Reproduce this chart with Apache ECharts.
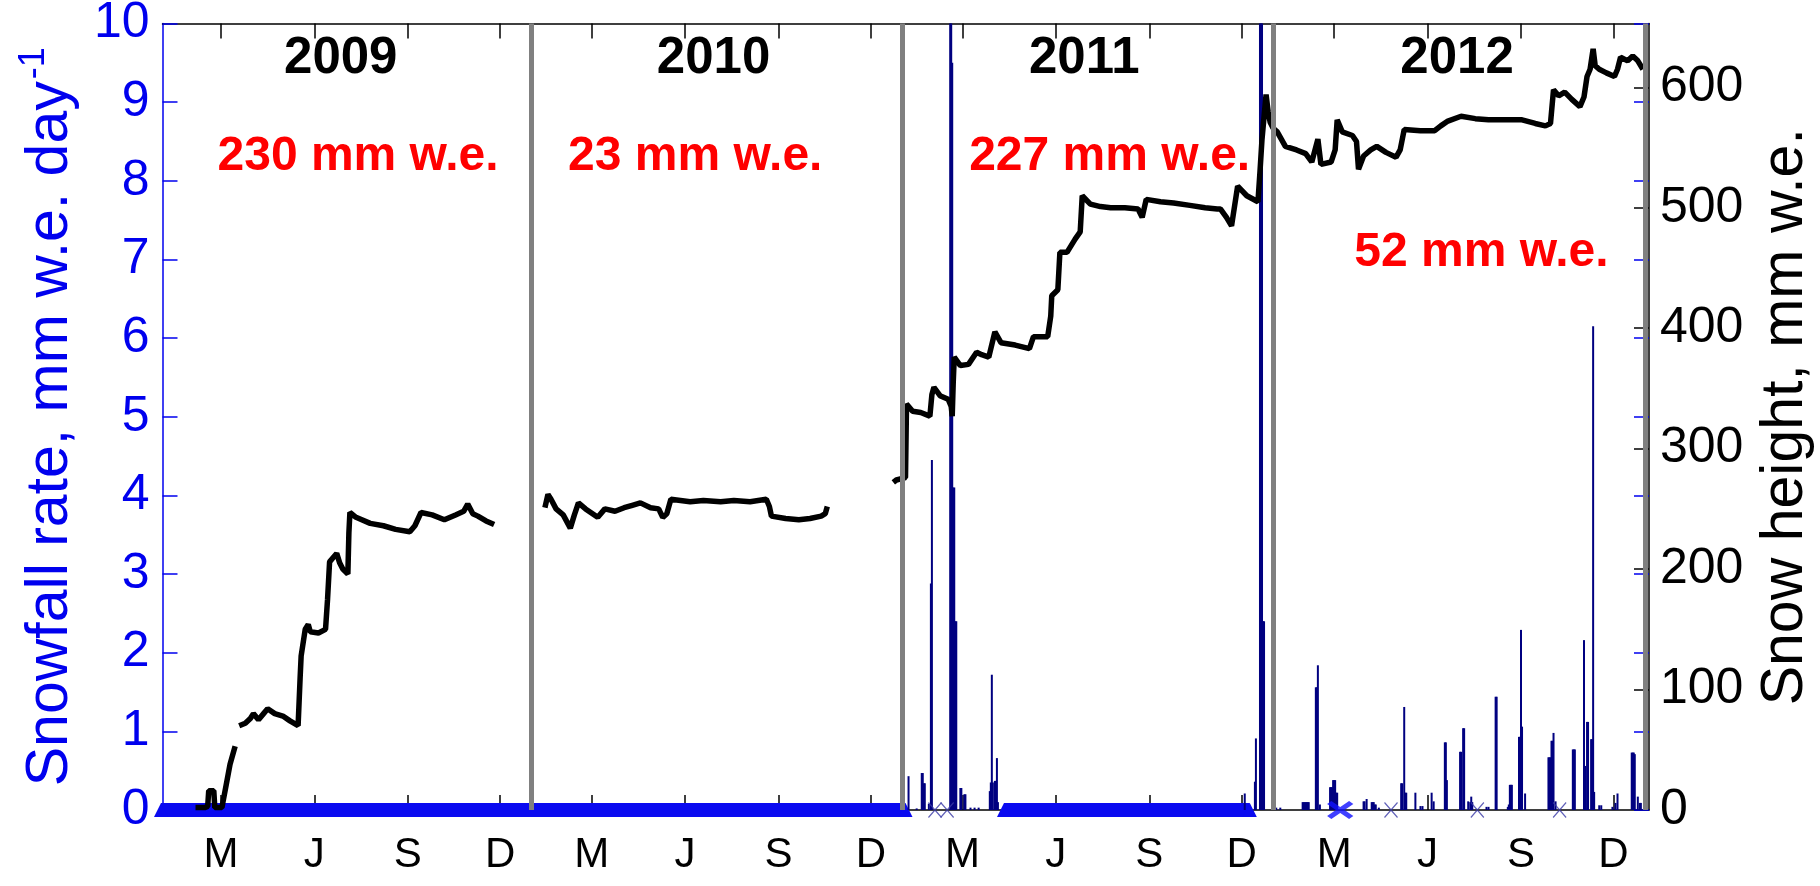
<!DOCTYPE html>
<html>
<head>
<meta charset="utf-8">
<script src="https://cdn.jsdelivr.net/npm/echarts@6/dist/echarts.min.js"></script>
<style>html,body{margin:0;padding:0;background:#fff}#c{width:1820px;height:886px}</style>
</head>
<body>
<div id="c"></div>
<script>
// x values are days of record counted from 2009-01-01 (day 0)
const yearSeparators = [365, 730, 1095, 1461];
const monthTickDays = [59, 151, 243, 334, 424, 516, 608, 699, 789, 881, 973, 1064, 1155, 1247, 1339, 1430];
const monthTickLabels = ['M', 'J', 'S', 'D', 'M', 'J', 'S', 'D', 'M', 'J', 'S', 'D', 'M', 'J', 'S', 'D'];
const yearNames = ['2009', '2010', '2011', '2012'];
const yearTotals = ['230 mm w.e.', '23 mm w.e.', '227 mm w.e.', '52 mm w.e.'];
const rateTicks = [0, 1, 2, 3, 4, 5, 6, 7, 8, 9, 10];
const heightTicks = [0, 100, 200, 300, 400, 500, 600];

// snowfall rate, mm w.e. day-1  [day, rate]
const snowRate2011 = [
  [736, 0.43], [744, 0.02], [749, 0.47], [750, 0.47], [751, 0.34], [752, 0.34], [756, 0.08],
  [758, 2.88], [759, 4.45], [777, 12], [778, 12], [779, 9.5], [780, 4.1], [781, 4.1], [782, 2.4], [783, 2.4],
  [787, 0.28], [788, 0.28], [791, 0.2], [792, 0.2], [797, 0.03], [801, 0.03], [805, 0.03],
  [816, 0.24], [817, 0.35], [818, 1.72], [819, 0.35], [821, 0.37], [822, 0.37], [823, 0.66], [824, 0.1],
  [1067, 0.21], [1077, 0.36], [1078, 0.91], [1082, 12], [1083, 12], [1084, 12], [1085, 2.4], [1086, 2.4]
];
const snowRate2012 = [
  [1098, 0.03], [1102, 0.03],
  [1124, 0.1], [1125, 0.1], [1126, 0.1], [1127, 0.1], [1128, 0.1], [1129, 0.1], [1130, 0.1],
  [1137, 1.56], [1138, 1.56], [1139, 1.84], [1141, 0.07],
  [1151, 0.29], [1152, 0.29], [1153, 0.29], [1154, 0.38], [1155, 0.38], [1156, 0.38], [1157, 0.22], [1158, 0.22],
  [1184, 0.11], [1185, 0.11], [1187, 0.14], [1192, 0.1], [1193, 0.1], [1194, 0.1], [1195, 0.07], [1196, 0.07], [1199, 0.03],
  [1221, 0.34], [1222, 0.34], [1224, 1.31], [1225, 0.22], [1226, 0.22], [1235, 0.22], [1240, 0.05], [1242, 0.05],
  [1251, 0.22], [1253, 0.11], [1264, 0.86], [1265, 0.86], [1266, 0.38],
  [1279, 0.74], [1280, 0.74], [1282, 1.04], [1283, 1.04], [1287, 0.11], [1289, 0.1], [1290, 0.17], [1291, 0.1],
  [1305, 0.04], [1307, 0.04], [1314, 1.44], [1315, 1.44], [1326, 0.04], [1327, 0.07],
  [1328, 0.32], [1329, 0.32], [1330, 0.32], [1337, 0.93], [1338, 0.93], [1339, 2.29], [1340, 1.06], [1343, 0.21],
  [1366, 0.67], [1367, 0.67], [1368, 0.67], [1369, 0.88], [1370, 0.88], [1371, 0.98], [1373, 0.11],
  [1390, 0.77], [1391, 0.77], [1392, 0.77], [1401, 2.16], [1402, 0.56], [1404, 1.12], [1405, 1.12],
  [1408, 0.9], [1409, 0.9], [1410, 6.15], [1411, 0.23], [1416, 0.06], [1418, 0.06],
  [1429, 0.04], [1432, 0.09], [1434, 0.21], [1448, 0.73], [1449, 0.73], [1450, 0.73], [1451, 0.71],
  [1454, 0.17], [1456, 0.09], [1457, 0.09]
];
// days where no snowfall rate could be derived (drawn on the zero line)
const noRateRuns = [[0, 733], [830, 1072]];
const thinCrossDays = [762, 774, 1211, 1296, 1377];
const boldCrossDays = [1161];

// snow height, mm w.e.  [day, height]
const snowHeight2009a = [[34, 2], [43, 2], [46, 3], [47, 16], [52, 16], [53, 2], [60, 2], [64, 20], [68, 38], [73, 53]];
const snowHeight2009b = [
  [77, 70], [83, 72], [88, 76], [91, 80], [96, 75], [101, 80], [105, 84], [112, 80], [120, 78], [127, 74], [135, 70],
  [137, 110], [138, 128], [142, 150], [145, 154], [147, 148], [155, 147], [162, 150], [164, 175], [166, 206],
  [170, 210], [173, 213], [176, 205], [179, 200], [184, 196], [185, 230], [186, 247], [192, 243], [206, 238],
  [219, 236], [231, 233], [245, 231], [250, 236], [256, 247], [267, 245], [279, 241], [290, 245], [298, 248],
  [302, 254], [307, 246], [312, 244], [320, 240], [328, 237]
];
const snowHeight2010 = [
  [378, 251], [381, 262], [384, 258], [389, 250], [396, 245], [403, 234], [407, 245], [411, 255], [418, 250],
  [430, 243], [437, 250], [447, 248], [456, 251], [464, 253], [472, 255], [482, 251], [490, 250], [494, 243],
  [498, 246], [502, 258], [521, 256], [534, 257], [551, 256], [564, 257], [580, 256], [596, 258], [599, 252],
  [601, 244], [615, 242], [628, 241], [639, 242], [650, 244], [654, 246], [656, 252]
];
const snowHeight2011 = [
  [721, 272], [724, 274], [733, 276], [734, 337], [740, 331], [748, 330], [757, 327], [759, 345], [761, 351],
  [767, 344], [775, 341], [778, 335], [779, 327], [780, 355], [781, 376], [787, 369], [795, 370], [803, 380],
  [808, 378], [815, 376], [821, 397], [827, 388], [841, 386], [855, 383], [859, 393], [873, 393], [876, 410],
  [877, 427], [883, 432], [885, 463], [892, 463], [900, 474], [905, 480], [907, 510], [915, 503], [925, 501],
  [935, 500], [949, 500], [962, 499], [966, 492], [970, 507], [984, 505], [997, 504], [1013, 502], [1028, 500],
  [1040, 499], [1043, 499], [1049, 492], [1054, 485], [1060, 518], [1069, 510], [1080, 505], [1082, 530],
  [1084, 557], [1088, 594], [1090, 580], [1092, 571], [1095, 566]
];
const snowHeight2012 = [
  [1095, 566], [1099, 563], [1107, 551], [1118, 548], [1127, 545], [1133, 538], [1139, 557], [1142, 536],
  [1152, 538], [1156, 548], [1158, 573], [1163, 563], [1173, 560], [1177, 555], [1179, 532], [1184, 543],
  [1191, 548], [1197, 551], [1206, 546], [1216, 542], [1220, 548], [1224, 565], [1240, 564], [1254, 564],
  [1260, 568], [1267, 572], [1280, 576], [1294, 574], [1307, 573], [1324, 573], [1340, 573], [1353, 570],
  [1363, 568], [1368, 570], [1371, 598], [1376, 593], [1382, 596], [1389, 590], [1397, 584], [1401, 592],
  [1404, 609], [1407, 615], [1410, 632], [1412, 618], [1416, 615], [1423, 612], [1431, 609], [1434, 615],
  [1437, 625], [1444, 622], [1449, 626], [1454, 622], [1459, 615]
];

// ---------------- layout / style ----------------
const FONT = '"Liberation Sans", Arial, Helvetica, sans-serif';
const BLUE = '#0000ee';
const NAVY = '#000080';
const X_MIN = 1.5, X_MAX = 1465;

const chart = echarts.init(document.getElementById('c'), null, {renderer: 'canvas'});

const snowHeightSegs = [snowHeight2009a, snowHeight2009b, snowHeight2010, snowHeight2011, snowHeight2012];
const crossPath = 'path://M0,0L10,10M10,0L0,10';

const series = [];
noRateRuns.forEach(function (run) {
  series.push({
    type: 'line', xAxisIndex: 0, yAxisIndex: 0, z: 2, clip: false, silent: true,
    data: [[run[0], 0], [run[1], 0]],
    symbol: 'triangle', symbolSize: 14, showSymbol: true,
    itemStyle: {color: '#0a0af0'},
    lineStyle: {color: '#0a0af0', width: 14},
    animation: false
  });
});
series.push({
  type: 'bar', xAxisIndex: 0, yAxisIndex: 0, z: 3, barWidth: 2,
  data: snowRate2011.concat(snowRate2012),
  itemStyle: {color: NAVY},
  animation: false
});
snowHeightSegs.forEach(function (seg) {
  series.push({
    type: 'line', xAxisIndex: 0, yAxisIndex: 1, z: 4, data: seg,
    showSymbol: false, symbol: 'none',
    lineStyle: {color: '#000', width: 5.5},
    animation: false
  });
});
series.push({
  type: 'scatter', xAxisIndex: 0, yAxisIndex: 0, z: 5, clip: false,
  data: thinCrossDays.map(function (d) { return [d, 0]; }),
  symbol: crossPath, symbolSize: [13, 15],
  itemStyle: {color: 'none', borderColor: '#3a3aa8', borderWidth: 1.3},
  animation: false
});
series.push({
  type: 'scatter', xAxisIndex: 0, yAxisIndex: 0, z: 5, clip: false,
  data: boldCrossDays.map(function (d) { return [d, 0]; }),
  symbol: crossPath, symbolSize: [22, 15],
  itemStyle: {color: 'none', borderColor: '#1010ff', borderWidth: 5},
  animation: false
});
series.push({
  type: 'line', xAxisIndex: 0, yAxisIndex: 0, z: 10, data: [],
  markLine: {
    silent: true, symbol: 'none', animation: false,
    label: {show: false},
    lineStyle: {color: '#808080', width: 5, type: 'solid'},
    data: yearSeparators.map(function (d) { return {xAxis: d}; })
  }
});

const option = {
  animation: false,
  backgroundColor: '#fff',
  textStyle: {fontFamily: FONT},
  grid: {left: 162.5, right: 171, top: 23.5, bottom: 76, containLabel: false, outerBoundsMode: 'none'},
  xAxis: [
    {
      type: 'value', position: 'bottom', min: X_MIN, max: X_MAX,
      axisLine: {show: true, onZero: false, lineStyle: {color: '#000', width: 1.5}},
      axisTick: {show: true, inside: true, length: 15, customValues: monthTickDays, lineStyle: {color: '#000', width: 1.5}},
      axisLabel: {
        show: true, customValues: monthTickDays, margin: 24, color: '#000', fontSize: 42, lineHeight: 42, fontFamily: FONT,
        formatter: function (v) { const i = monthTickDays.indexOf(v); return i >= 0 ? monthTickLabels[i] : ''; }
      },
      splitLine: {show: false}
    },
    {
      type: 'value', position: 'top', min: X_MIN, max: X_MAX,
      axisLine: {show: true, onZero: false, lineStyle: {color: '#000', width: 1.5}},
      axisTick: {show: true, inside: true, length: 15, customValues: monthTickDays, lineStyle: {color: '#000', width: 1.5}},
      axisLabel: {show: false},
      splitLine: {show: false}
    }
  ],
  yAxis: [
    {
      type: 'value', position: 'left', min: 0, max: 10, interval: 1,
      name: 'Snowfall rate, mm w.e. day{sup|-1}', nameLocation: 'middle', nameRotate: 90, nameGap: 78,
      nameMoveOverlap: false,
      nameTextStyle: {
        color: BLUE, fontSize: 59, lineHeight: 68, fontFamily: FONT,
        rich: {sup: {color: BLUE, fontSize: 36, lineHeight: 68, verticalAlign: 'top', padding: [0, 0, 16, 2], fontFamily: FONT}}
      },
      axisLine: {show: true, onZero: false, lineStyle: {color: BLUE, width: 1.5}},
      axisTick: {show: true, inside: true, length: 15, lineStyle: {color: BLUE, width: 1.5}},
      axisLabel: {show: true, customValues: rateTicks, margin: 13, color: BLUE, fontSize: 50, fontFamily: FONT},
      splitLine: {show: false}
    },
    {
      type: 'value', position: 'right', min: 0, max: 653,
      name: 'Snow height, mm w.e.', nameLocation: 'middle', nameRotate: 90, nameGap: 103,
      nameMoveOverlap: false,
      nameTextStyle: {color: '#000', fontSize: 59, lineHeight: 68, fontFamily: FONT},
      axisLine: {show: true, onZero: false, lineStyle: {color: '#000', width: 1.5}},
      axisTick: {show: true, inside: true, length: 15, customValues: heightTicks, lineStyle: {color: '#000', width: 1.5}},
      axisLabel: {show: true, customValues: heightTicks, margin: 11, color: '#000', fontSize: 50, fontFamily: FONT},
      splitLine: {show: false}
    },
    {
      type: 'value', position: 'right', min: 0, max: 10, interval: 1,
      axisLine: {show: false},
      axisTick: {show: true, inside: true, length: 15, lineStyle: {color: BLUE, width: 1.5}},
      axisLabel: {show: false},
      splitLine: {show: false}
    }
  ],
  series: series
};
chart.setOption(option);

// annotations anchored in data space of the left (rate) axis
const yearLabelDays = [177, 544, 909, 1276];
const yearLabelRate = 9.55;
const totalDays = [194, 526, 934, 1300];
const totalRates = [8.3, 8.3, 8.3, 7.09];
const graphics = [];
yearNames.forEach(function (t, i) {
  const p = chart.convertToPixel({xAxisIndex: 0, yAxisIndex: 0}, [yearLabelDays[i], yearLabelRate]);
  graphics.push({type: 'text', x: p[0], y: p[1], z: 20, silent: true,
    style: {text: t, fill: '#000', fontSize: 51, fontWeight: 'bold', fontFamily: FONT, align: 'center', verticalAlign: 'middle'}});
});
yearTotals.forEach(function (t, i) {
  const p = chart.convertToPixel({xAxisIndex: 0, yAxisIndex: 0}, [totalDays[i], totalRates[i]]);
  graphics.push({type: 'text', x: p[0], y: p[1], z: 20, silent: true,
    style: {text: t, fill: '#ff0000', fontSize: 48, fontWeight: 'bold', fontFamily: FONT, align: 'center', verticalAlign: 'middle'}});
});
chart.setOption({graphic: graphics});
</script>
</body>
</html>
